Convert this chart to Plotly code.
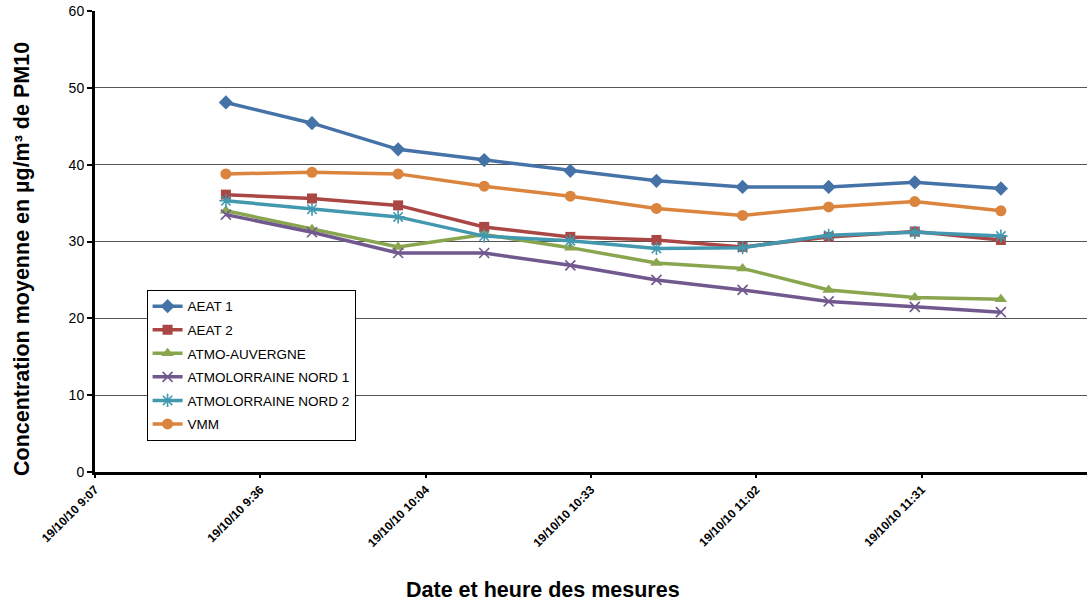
import plotly.graph_objects as go

# Measurement times (every 15 minutes on 19/10/2010)
times = ["2010-10-19 09:30", "2010-10-19 09:45", "2010-10-19 10:00", "2010-10-19 10:15",
         "2010-10-19 10:30", "2010-10-19 10:45", "2010-10-19 11:00", "2010-10-19 11:15",
         "2010-10-19 11:30", "2010-10-19 11:45"]

aeat1 = [48.1, 45.4, 42.0, 40.6, 39.2, 37.9, 37.1, 37.1, 37.7, 36.9]
aeat2 = [36.1, 35.6, 34.7, 31.9, 30.6, 30.2, 29.3, 30.6, 31.3, 30.2]
atmo_auvergne = [34.0, 31.6, 29.3, 30.9, 29.2, 27.2, 26.5, 23.7, 22.7, 22.5]
atmolorraine1 = [33.5, 31.2, 28.5, 28.5, 26.9, 25.0, 23.7, 22.2, 21.5, 20.8]
atmolorraine2 = [35.3, 34.2, 33.2, 30.7, 30.1, 29.1, 29.2, 30.8, 31.2, 30.7]
vmm = [38.8, 39.0, 38.8, 37.2, 35.9, 34.3, 33.4, 34.5, 35.2, 34.0]

tick_vals = ["2010-10-19 09:07:12", "2010-10-19 09:36:00", "2010-10-19 10:04:48",
             "2010-10-19 10:33:36", "2010-10-19 11:02:24", "2010-10-19 11:31:12"]
tick_text = ["19/10/10 9:07", "19/10/10 9:36", "19/10/10 10:04",
             "19/10/10 10:33", "19/10/10 11:02", "19/10/10 11:31"]

series = [
    ("AEAT 1", aeat1, "#4572A7", "diamond", 11, 0),
    ("AEAT 2", aeat2, "#AA4643", "square", 10, 0),
    ("ATMO-AUVERGNE", atmo_auvergne, "#89A54E", "triangle-up", 11, 0),
    ("ATMOLORRAINE NORD 1", atmolorraine1, "#71588F", "x-thin-open", 10, 1.6),
    ("ATMOLORRAINE NORD 2", atmolorraine2, "#4198AF", "asterisk-open", 11, 1.6),
    ("VMM", vmm, "#DB843D", "circle", 11, 0),
]

fig = go.Figure()
for i, (name, vals, color, symbol, size, mlw) in enumerate(series):
    fig.add_trace(go.Scatter(
        x=times, y=vals, name=name, mode="lines+markers",
        legendgroup=f"g{i}",
        line=dict(color=color, width=3.5),
        marker=dict(symbol=symbol, size=size, color=color,
                    line=dict(color=color, width=mlw)),
    ))

font_family = "Liberation Sans, Arial, sans-serif"

fig.update_layout(
    width=1091, height=604,
    margin=dict(l=95, r=4, t=11, b=132),
    plot_bgcolor="white", paper_bgcolor="white",
    font=dict(family=font_family, color="black"),
    showlegend=True,
    legend=dict(
        x=0.052, y=0.395, xanchor="left", yanchor="top",
        bgcolor="white", bordercolor="black", borderwidth=1,
        font=dict(size=13.5), traceorder="grouped", tracegroupgap=3,
    ),
    xaxis=dict(
        type="date",
        range=["2010-10-19 09:07:12", "2010-10-19 12:00:00"],
        tickmode="array", tickvals=tick_vals, ticktext=tick_text,
        tickangle=-45, tickfont=dict(size=12, family=font_family, weight="bold"),
        showline=True, linecolor="black", linewidth=3,
        ticks="outside", ticklen=3, tickcolor="black", tickwidth=2,
        showgrid=False, zeroline=False,
    ),
    yaxis=dict(
        range=[0, 60], dtick=10,
        tickfont=dict(size=14),
        showline=True, linecolor="black", linewidth=3,
        ticks="outside", ticklen=5, tickcolor="black", tickwidth=2,
        showgrid=True, gridcolor="#555555", gridwidth=1,
        zeroline=False,
    ),
    annotations=[
        dict(text="<b>Date et heure des mesures</b>", xref="paper", yref="paper",
             x=(543 - 95) / 992, y=-(590 - 472) / 461, xanchor="center", yanchor="middle",
             showarrow=False, font=dict(size=21.5)),
        dict(text="<b>Concentration moyenne en µg/m³ de PM10</b>", xref="paper", yref="paper",
             x=-(95 - 22) / 992, y=(472 - 259) / 461, xanchor="center", yanchor="middle",
             textangle=-90, showarrow=False, font=dict(size=21.5)),
    ],
)

fig.write_html("out.html")
